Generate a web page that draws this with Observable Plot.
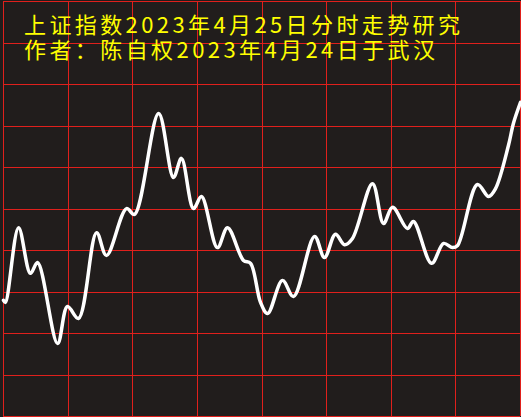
<!DOCTYPE html>
<html>
<head>
<meta charset="utf-8">
<script src="https://cdn.jsdelivr.net/npm/d3@7"></script>
<script src="https://cdn.jsdelivr.net/npm/@observablehq/plot@0.6"></script>
<style>
  html, body { margin: 0; padding: 0; background: #211d1c; }
  #chart svg { display: block; }
</style>
</head>
<body>
<div id="chart"></div>
<script>
// Titles
const title1 = "上证指数2023年4月25日分时走势研究";
const title2 = "作者：陈自权2023年4月24日于武汉";

// Session minutes (0..240) and relative level (grid units 0..10)
const minutes = [0, 0.9, 7.0, 12.5, 15.8, 25.1, 29.7, 34.8, 43.2, 47.8, 57.1, 60.8, 72.0, 78.9, 82.6, 88.2, 91.9, 99.3, 104.0, 111.4, 114.7, 119.3, 122.6, 129.5, 134.6, 144.4, 149.0, 154.1, 158.3, 162.0, 171.3, 176.4, 180.6, 187.5, 190.3, 198.7, 204.3, 208.4, 210.8, 220.0, 225.2, 228.4, 234.4, 236.7, 240];
const levels  = [2.80, 2.75, 4.55, 3.45, 3.71, 1.76, 2.65, 2.36, 4.43, 3.88, 5.01, 4.87, 7.30, 5.76, 6.22, 5.01, 5.30, 4.07, 4.55, 3.76, 3.69, 2.75, 2.48, 3.28, 2.89, 4.34, 3.83, 4.39, 4.14, 4.29, 5.61, 4.65, 5.04, 4.53, 4.70, 3.69, 4.17, 4.07, 4.12, 5.59, 5.30, 5.49, 6.53, 7.06, 7.57];

// Grid positions
const xGrid = [0, 30, 60, 90, 120, 150, 180, 210, 240];
const yGrid = [0, 1, 2, 3, 4, 5, 6, 7, 8, 9, 10];

const data = minutes.map((m, i) => ({m, v: levels[i]}));

const chart = Plot.plot({
  width: 521,
  height: 417,
  marginLeft: 3,
  marginRight: 1,
  marginTop: 1,
  marginBottom: 1,
  style: {background: "#211d1c"},
  x: {domain: [0, 240], axis: null},
  y: {domain: [0, 10], axis: null},
  marks: [
    Plot.ruleX(xGrid, {stroke: "#e0201c", strokeWidth: 1, shapeRendering: "crispEdges"}),
    Plot.ruleY(yGrid, {stroke: "#e0201c", strokeWidth: 1, shapeRendering: "crispEdges"}),
    Plot.line(data, {x: "m", y: "v", stroke: "#ffffff", strokeWidth: 3.5, curve: "catmull-rom"})
  ]
});

const svg = d3.select(chart);
[[title1, 33, 436], [title2, 58, 411]].forEach(([t, y, len]) => {
  svg.append("text")
    .attr("x", 24).attr("y", y)
    .attr("text-anchor", "start")
    .attr("fill", "#ffff00")
    .attr("font-family", "'Noto Sans CJK SC', sans-serif")
    .attr("font-size", 22)
    .attr("textLength", len)
    .attr("lengthAdjust", "spacing")
    .text(t);
});

document.getElementById("chart").appendChild(chart);
</script>
</body>
</html>
